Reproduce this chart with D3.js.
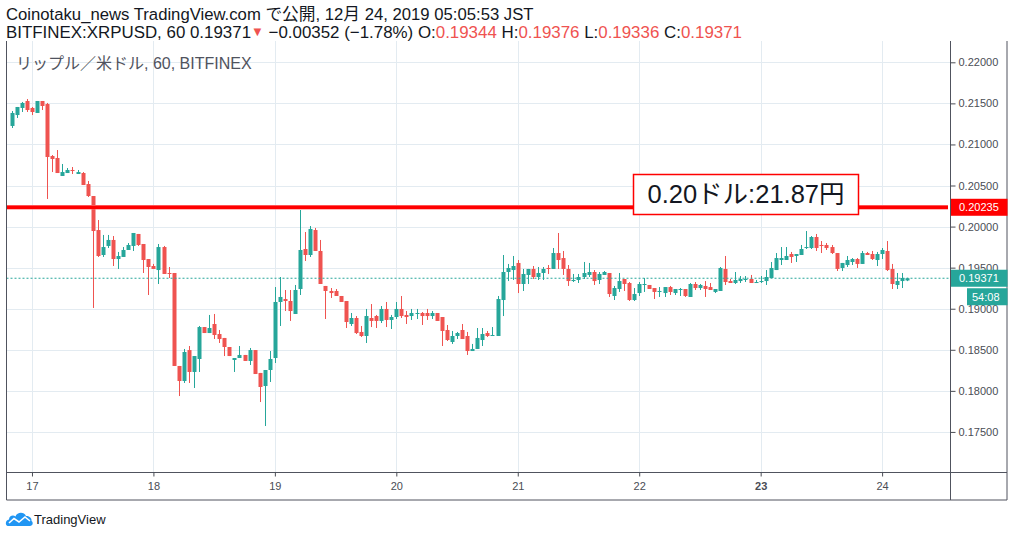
<!DOCTYPE html>
<html>
<head>
<meta charset="utf-8">
<script src="https://cdn.jsdelivr.net/npm/d3@7"></script>
<style>
  body { margin: 0; background: #fff; }
  svg { display: block; }
</style>
</head>
<body>
<svg id="chart" width="1014" height="537"></svg>
<script>
// ---- data: XRPUSD 1h candles, BITFINEX, first bar Dec 16 20:00 ----
const firstBar = new Date(2019, 11, 16, 20);

const opens = [
  .21225,.21358,.21444,.21529,.21444,.21383,.21529,.21492,.20859,.20835,.20616,.20652,
  .20689,.20640,.20652,.20518,.20372,.19958,.19654,.19764,.19837,.19605,.19630,.19715,
  .19764,.19910,.19788,.19605,.19520,.19471,.19751,.19435,.19435,.18303,.18120,.18497,
  .18230,.18388,.18777,.18704,.18814,.18692,.18644,.18534,.18376,.18400,.18437,.18364,
  .18497,.18218,.18059,.18254,.18400,.19082,.19118,.19094,.18936,.19240,.19727,.19654,
  .19958,.19703,.19277,.19216,.19216,.19155,.19094,.18814,.18887,.18717,.18668,.18887,
  .18911,.18851,.18997,.18863,.18899,.18997,.18924,.18911,.18936,.18948,.18948,.18911,
  .18948,.18899,.18741,.18595,.18668,.18741,.18668,.18485,.18510,.18619,.18704,.18668,
  .18668,.19106,.19447,.19471,.19557,.19301,.19411,.19484,.19386,.19435,.19496,.19484,
  .19678,.19617,.19484,.19337,.19350,.19386,.19411,.19447,.19350,.19411,.19435,.19155,
  .19240,.19362,.19313,.19106,.19191,.19289,.19289,.19252,.19204,.19191,.19264,.19191,
  .19228,.19240,.19143,.19301,.19252,.19277,.19264,.19204,.19216,.19484,.19337,.19313,
  .19337,.19350,.19362,.19313,.19325,.19337,.19374,.19471,.19593,.19593,.19666,.19642,
  .19654,.19739,.19739,.19873,.19776,.19776,.19751,.19678,.19496,.19532,.19569,.19605,
  .19545,.19678,.19666,.19593,.19666,.19703,.19484,.19289,.19337,.19344
];
const highs = [
  .21407,.21456,.21517,.21553,.21456,.21529,.21529,.21505,.20871,.20932,.20762,.20713,
  .20725,.20689,.20664,.20555,.20372,.20080,.19898,.19898,.19885,.19691,.19751,.19800,
  .19922,.19910,.19788,.19605,.19545,.19788,.19764,.19508,.19435,.18303,.18510,.18546,
  .18424,.18790,.18777,.18924,.18936,.18741,.18644,.18534,.18400,.18546,.18437,.18522,
  .18497,.18218,.18254,.18485,.19264,.19386,.19228,.19228,.19289,.20202,.19934,.20007,
  .19983,.19837,.19277,.19252,.19240,.19155,.19094,.18948,.18911,.18790,.18997,.19057,
  .18924,.19033,.19082,.18924,.19082,.19155,.18972,.18997,.18997,.18960,.18997,.18972,
  .18948,.18899,.18802,.18729,.18717,.18814,.18717,.18571,.18765,.18765,.18729,.18777,
  .19155,.19654,.19545,.19642,.19593,.19484,.19484,.19520,.19508,.19508,.19532,.19739,
  .19922,.19703,.19532,.19423,.19423,.19569,.19557,.19471,.19447,.19459,.19435,.19277,
  .19435,.19362,.19325,.19252,.19325,.19374,.19289,.19252,.19264,.19264,.19277,.19240,
  .19252,.19240,.19313,.19325,.19301,.19337,.19313,.19240,.19508,.19642,.19362,.19447,
  .19398,.19398,.19411,.19350,.19398,.19471,.19569,.19678,.19751,.19751,.19691,.19666,
  .19776,.19946,.19885,.19910,.19824,.19800,.19776,.19678,.19557,.19642,.19617,.19617,
  .19703,.19691,.19703,.19691,.19739,.19824,.19545,.19435,.19435,.19376
];
const lows = [
  .21200,.21322,.21395,.21395,.21358,.21383,.21419,.20336,.20664,.20652,.20616,.20652,
  .20640,.20640,.20506,.20360,.19009,.19630,.19630,.19739,.19520,.19484,.19630,.19715,
  .19703,.19764,.19435,.19167,.19484,.19301,.19423,.19374,.18303,.17937,.18096,.18096,
  .18035,.18230,.18704,.18704,.18631,.18583,.18424,.18424,.18230,.18400,.18364,.18315,
  .18205,.17864,.17572,.18108,.18339,.18790,.18972,.18851,.18936,.19167,.19581,.19630,
  .19703,.19301,.18875,.19131,.19155,.19082,.18765,.18790,.18692,.18656,.18583,.18777,
  .18765,.18826,.18777,.18753,.18875,.18887,.18814,.18863,.18875,.18802,.18863,.18875,
  .18851,.18546,.18607,.18571,.18631,.18631,.18437,.18485,.18510,.18546,.18656,.18668,
  .18668,.18911,.19337,.19350,.19191,.19216,.19301,.19362,.19350,.19350,.19423,.19484,
  .19484,.19411,.19277,.19325,.19313,.19362,.19386,.19289,.19301,.19411,.19143,.19106,
  .19204,.19216,.19094,.19094,.19155,.19204,.19240,.19118,.19143,.19143,.19167,.19167,
  .19155,.19143,.19143,.19228,.19228,.19143,.19228,.19191,.19216,.19289,.19313,.19301,
  .19313,.19325,.19313,.19313,.19313,.19289,.19374,.19471,.19532,.19593,.19557,.19569,
  .19654,.19727,.19727,.19703,.19678,.19715,.19666,.19459,.19459,.19508,.19532,.19496,
  .19545,.19654,.19593,.19520,.19605,.19459,.19240,.19240,.19252,.19336
];
const closes = [
  .21383,.21456,.21505,.21419,.21395,.21529,.21468,.20847,.20823,.20652,.20664,.20689,
  .20677,.20664,.20506,.20372,.19946,.19642,.19751,.19837,.19605,.19642,.19715,.19776,
  .19922,.19776,.19593,.19508,.19484,.19751,.19423,.19423,.18303,.18120,.18473,.18230,
  .18424,.18777,.18704,.18765,.18680,.18631,.18534,.18424,.18400,.18437,.18364,.18497,
  .18205,.18047,.18254,.18388,.19082,.19143,.19094,.18972,.19228,.19715,.19654,.19971,
  .19703,.19301,.19216,.19191,.19155,.19082,.18838,.18887,.18704,.18668,.18911,.18851,
  .18851,.18997,.18863,.18899,.18997,.18911,.18899,.18948,.18948,.18911,.18911,.18948,
  .18851,.18729,.18619,.18668,.18704,.18631,.18485,.18510,.18644,.18692,.18668,.18680,
  .19118,.19447,.19496,.19520,.19301,.19423,.19484,.19386,.19435,.19484,.19484,.19678,
  .19593,.19484,.19337,.19350,.19386,.19435,.19447,.19337,.19423,.19447,.19179,.19252,
  .19337,.19301,.19106,.19179,.19301,.19301,.19240,.19204,.19216,.19264,.19204,.19240,
  .19240,.19155,.19301,.19252,.19289,.19240,.19228,.19240,.19496,.19325,.19313,.19350,
  .19362,.19362,.19313,.19325,.19337,.19386,.19496,.19617,.19617,.19642,.19630,.19666,
  .19727,.19751,.19873,.19739,.19764,.19739,.19678,.19484,.19557,.19593,.19605,.19545,
  .19678,.19654,.19605,.19666,.19715,.19471,.19301,.19337,.19374,.19371
];

const priceTicks = [0.175, 0.18, 0.185, 0.19, 0.195, 0.20, 0.205, 0.21, 0.215, 0.22];
const dayTicks = [17, 18, 19, 20, 21, 22, 23, 24];
const boldDay = 23;
const markPrice = 0.20235;
const lastPrice = 0.19371;
const countdown = "54:08";
const noteText = "0.20ドル:21.87円";

const headerLine1 = "Coinotaku_news TradingView.com で公開, 12月 24, 2019 05:05:53 JST";
const headerParts = [
  {t: "BITFINEX:XRPUSD, 60 0.19371", c: "#131722"},
  {t: "▼", c: "#ef5350", s: 13},
  {t: " −0.00352 (−1.78%) O:", c: "#131722"},
  {t: "0.19344", c: "#ef5350"},
  {t: " H:", c: "#131722"},
  {t: "0.19376", c: "#ef5350"},
  {t: " L:", c: "#131722"},
  {t: "0.19336", c: "#ef5350"},
  {t: " C:", c: "#131722"},
  {t: "0.19371", c: "#ef5350"}
];
const legendText = "リップル／米ドル, 60, BITFINEX";

// ---- layout ----
const font = "'Liberation Sans', 'Noto Sans CJK JP', sans-serif";
const plot = {left: 6.5, right: 950, top: 41, bottom: 472};
const frame = {right: 1007, bottom: 500};
const up = "#26a69a", down = "#ef5350", grid = "#e3ebf1", axisInk = "#4a4d55";

const candles = opens.map((o, i) => ({
  t: d3.timeHour.offset(firstBar, i),
  o: o, h: highs[i], l: lows[i], c: closes[i]
}));

const x = d3.scaleTime()
  .domain([new Date(2019, 11, 16, 18, 58), new Date(2019, 11, 24, 13, 25)])
  .range([plot.left, plot.right]);

const y = d3.scaleLinear()
  .domain([0.170122, 0.222593])
  .range([plot.bottom, plot.top]);

const svg = d3.select("#chart").style("font-family", font);

// header
svg.append("text")
  .attr("x", 6).attr("y", 20)
  .attr("font-size", 16.7).attr("fill", "#131722")
  .text(headerLine1);

const h2 = svg.append("text")
  .attr("x", 6).attr("y", 38)
  .attr("font-size", 16.9);
h2.selectAll("tspan")
  .data(headerParts)
  .join("tspan")
  .attr("fill", d => d.c)
  .attr("font-size", d => d.s || null)
  .attr("dy", d => d.s ? -2 : 0)
  .text(d => d.t)
  .each(function(d) {
    // undo the raise after the small triangle
    if (d.s) d3.select(this.nextSibling).attr("dy", 2);
  });

// grid
const gridG = svg.append("g");
gridG.selectAll(".hgrid")
  .data(priceTicks)
  .join("line")
  .attr("x1", plot.left).attr("x2", plot.right)
  .attr("y1", d => Math.round(y(d)) + 0.5).attr("y2", d => Math.round(y(d)) + 0.5)
  .attr("stroke", grid);

const dayDates = dayTicks.map(d => new Date(2019, 11, d));
gridG.selectAll(".vgrid")
  .data(dayDates)
  .join("line")
  .attr("x1", d => Math.round(x(d)) + 0.5).attr("x2", d => Math.round(x(d)) + 0.5)
  .attr("y1", plot.top).attr("y2", plot.bottom)
  .attr("stroke", grid);

// chart legend
svg.append("text")
  .attr("x", 16).attr("y", 69)
  .attr("font-size", 16).attr("fill", "#50535e")
  .text(legendText);

// candles
svg.append("clipPath").attr("id", "plotClip")
  .append("rect")
  .attr("x", plot.left).attr("y", plot.top)
  .attr("width", plot.right - plot.left).attr("height", plot.bottom - plot.top);

const candleG = svg.append("g").attr("clip-path", "url(#plotClip)");
const bw = 4;

const bar = candleG.selectAll(".candle")
  .data(candles)
  .join("g")
  .attr("class", "candle")
  .attr("fill", d => d.c >= d.o ? up : down)
  .attr("stroke", d => d.c >= d.o ? up : down);

bar.append("line")
  .attr("x1", d => Math.round(x(d.t)) + 0.5).attr("x2", d => Math.round(x(d.t)) + 0.5)
  .attr("y1", d => y(d.h)).attr("y2", d => y(d.l))
  .attr("stroke-width", 1);

bar.append("rect")
  .attr("stroke", "none")
  .attr("x", d => Math.round(x(d.t)) + 0.5 - bw / 2)
  .attr("width", bw)
  .attr("y", d => y(Math.max(d.o, d.c)))
  .attr("height", d => Math.max(1, Math.abs(y(d.o) - y(d.c))));

// last price dotted line
candleG.append("line")
  .attr("x1", plot.left).attr("x2", plot.right)
  .attr("y1", y(lastPrice)).attr("y2", y(lastPrice))
  .attr("stroke", up).attr("stroke-width", 1)
  .attr("stroke-dasharray", "2,2");

// horizontal mark line
candleG.append("line")
  .attr("x1", plot.left).attr("x2", plot.right - 2)
  .attr("y1", y(markPrice)).attr("y2", y(markPrice))
  .attr("stroke", "#ff7070").attr("stroke-width", 4.6);
candleG.append("line")
  .attr("x1", plot.left).attr("x2", plot.right - 2)
  .attr("y1", y(markPrice)).attr("y2", y(markPrice))
  .attr("stroke", "#ff0000").attr("stroke-width", 3.2);

// note box
const note = svg.append("g");
note.append("rect")
  .attr("x", 633.5).attr("y", 174.5)
  .attr("width", 225).attr("height", 40)
  .attr("fill", "#fff").attr("stroke", "#ff0000").attr("stroke-width", 1.5);
note.append("text")
  .attr("x", 746).attr("y", 203)
  .attr("text-anchor", "middle")
  .attr("font-size", 25.5).attr("fill", "#131722")
  .text(noteText);

// frame and axes borders
const border = svg.append("g").attr("stroke", "#50535e").attr("fill", "none");
border.append("path")
  .attr("d", `M${plot.left},${plot.top}V${frame.bottom}H${frame.right}V${plot.top}`);
border.append("line")
  .attr("x1", plot.right + 0.5).attr("x2", plot.right + 0.5)
  .attr("y1", plot.top).attr("y2", frame.bottom);
border.append("line")
  .attr("x1", plot.left).attr("x2", frame.right)
  .attr("y1", plot.bottom + 0.5).attr("y2", plot.bottom + 0.5);

// price axis
const yAxis = svg.append("g")
  .attr("transform", `translate(${plot.right + 0.5},0)`)
  .call(d3.axisRight(y).tickValues(priceTicks).tickFormat(d3.format(".5f")).tickSize(5).tickPadding(3));
yAxis.select(".domain").remove();
yAxis.selectAll(".tick line").attr("stroke", axisInk);
yAxis.selectAll(".tick text")
  .attr("fill", axisInk).attr("font-size", 11).attr("font-family", font);

// time axis
const xAxis = svg.append("g")
  .attr("transform", `translate(0,${plot.bottom + 0.5})`)
  .call(d3.axisBottom(x).tickValues(dayDates).tickFormat(d3.timeFormat("%-d")).tickSize(4).tickPadding(6));
xAxis.select(".domain").remove();
xAxis.selectAll(".tick line").attr("stroke", axisInk);
xAxis.selectAll(".tick text")
  .attr("fill", axisInk).attr("font-size", 11).attr("font-family", font)
  .attr("font-weight", d => d.getDate() === boldDay ? "bold" : null);

// price labels on the axis
function priceTag(price, fill, label) {
  const g = svg.append("g");
  g.append("rect")
    .attr("x", plot.right + 1).attr("y", y(price) - 8.5)
    .attr("width", frame.right - plot.right - 0.5).attr("height", 17)
    .attr("fill", fill);
  g.append("text")
    .attr("x", plot.right + 9).attr("y", y(price) + 4)
    .attr("font-size", 11).attr("fill", "#fff")
    .text(label);
}
priceTag(markPrice, "#ff0000", d3.format(".5f")(markPrice));
priceTag(lastPrice, up, d3.format(".5f")(lastPrice));

svg.append("rect")
  .attr("x", 967).attr("y", y(lastPrice) + 10)
  .attr("width", frame.right - 967 + 0.5).attr("height", 17)
  .attr("fill", up);
svg.append("text")
  .attr("x", 972).attr("y", y(lastPrice) + 22.5)
  .attr("font-size", 11).attr("fill", "#fff")
  .text(countdown);

// TradingView logo
const logo = svg.append("g").attr("transform", "translate(6,510)");
logo.append("path")
  .attr("d", "M2,16 C-1,16 -1,10 3,9.5 C3,6 7,4.5 9.5,6.5 C11,2 18,1.5 20,6 C23,5.5 26,8 25.5,11 C27.5,12 27,16 24,16 Z")
  .attr("fill", "#2196f3");
logo.append("polyline")
  .attr("points", "3,13 8,8.5 13,12 19,7 24,11")
  .attr("fill", "none").attr("stroke", "#fff").attr("stroke-width", 1.6);
svg.append("text")
  .attr("x", 34).attr("y", 524)
  .attr("font-size", 13).attr("fill", "#131722")
  .text("TradingView");
</script>
</body>
</html>
